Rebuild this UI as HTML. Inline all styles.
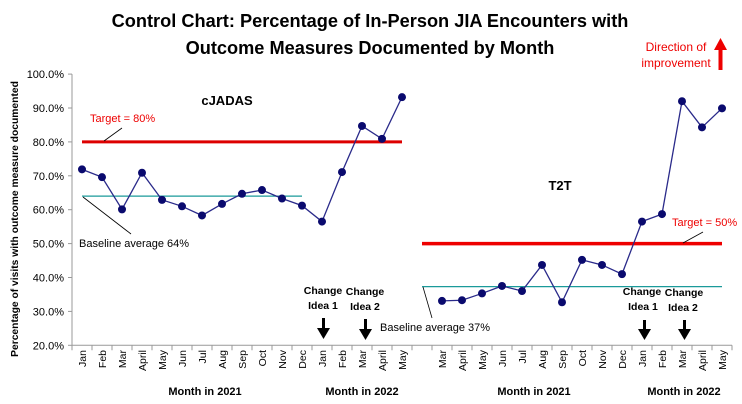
<!DOCTYPE html>
<html><head><meta charset="utf-8"><style>
body{margin:0;background:#fff}
svg{display:block;font-family:"Liberation Sans",sans-serif}
</style></head><body>
<svg width="742" height="404" viewBox="0 0 742 404">
<text x="370" y="27" text-anchor="middle" font-size="18.2" font-weight="bold">Control Chart: Percentage of In-Person JIA Encounters with</text>
<text x="370" y="54" text-anchor="middle" font-size="18.2" font-weight="bold">Outcome Measures Documented by Month</text>
<text x="676" y="51" text-anchor="middle" font-size="12" fill="#e00">Direction of</text>
<text x="676" y="67" text-anchor="middle" font-size="12" fill="#e00">improvement</text>
<g><rect x="718.5" y="48" width="4" height="22" fill="#e00"/><polygon points="714,50 727,50 720.5,38" fill="#e00"/></g>
<text transform="translate(18,219) rotate(-90)" text-anchor="middle" font-size="10.3" font-weight="bold">Percentage of visits with outcome measure documented</text>
<g id="axes"></g>
<g id="marks"></g>
</svg>
<script>
const yTicks=[20,30,40,50,60,70,80,90,100];
const leftCats=["Jan","Feb","Mar","April","May","Jun","Jul","Aug","Sep","Oct","Nov","Dec","Jan","Feb","Mar","April","May"];
const leftVals=[71.9,69.6,60.1,70.9,62.9,61.0,58.3,61.7,64.7,65.8,63.3,61.2,56.5,71.1,84.7,80.9,93.2];
const rightCats=["Mar","April","May","Jun","Jul","Aug","Sep","Oct","Nov","Dec","Jan","Feb","Mar","April","May"];
const rightVals=[33.1,33.3,35.3,37.5,36.0,43.7,32.7,45.2,43.7,41.0,56.5,58.7,92.0,84.3,89.9];
const leftTarget=80, leftBaseline=64, rightTarget=50, rightBaseline=37.3;
const NS="http://www.w3.org/2000/svg";
const y=v=>345.3-(v-20)*3.39;
const x=i=>82+i*20;
const rOff=leftCats.length+1;
function mk(p,t,a){const e=document.createElementNS(NS,t);for(const k in a)e.setAttribute(k,a[k]);p.appendChild(e);return e;}
const ax=document.getElementById('axes'),mg=document.getElementById('marks');
mk(ax,'line',{x1:72,y1:y(20),x2:72,y2:y(100),stroke:'#999'});
yTicks.forEach(t=>{mk(ax,'line',{x1:68,y1:y(t),x2:72,y2:y(t),stroke:'#999'});
 const tx=mk(ax,'text',{x:64,y:y(t)+4,'text-anchor':'end','font-size':11});tx.textContent=t.toFixed(1)+'%';
 
 });
const total=leftCats.length+1+rightCats.length;
mk(ax,'line',{x1:72,y1:y(20),x2:72+total*20,y2:y(20),stroke:'#999'});
for(let i=0;i<=total;i++)mk(ax,'line',{x1:72+i*20,y1:y(20),x2:72+i*20,y2:y(20)+5,stroke:'#999'});
function xl(c,i){const t=mk(ax,'text',{transform:`translate(${x(i)+4},350) rotate(-90)`,'text-anchor':'end','font-size':10.5});t.textContent=c;
 
 }
leftCats.forEach((c,i)=>xl(c,i));rightCats.forEach((c,i)=>xl(c,i+rOff));
[["Month in 2021",205],["Month in 2022",362],["Month in 2021",534],["Month in 2022",684]].forEach(([s,px])=>{const t=mk(ax,'text',{x:px,y:395,'text-anchor':'middle','font-size':11,'font-weight':'bold'});t.textContent=s;
 
 });
function hl(x1,x2,v,col,w,name){const l=mk(mg,'line',{x1,x2,y1:y(v),y2:y(v),stroke:col,'stroke-width':w});
 
 }
hl(x(0),x(leftCats.length-1),leftTarget,'#d00','3','cjadas-target-line');
hl(x(0),x(11),leftBaseline,'#1a9a9a','1.3','cjadas-baseline-line');
hl(x(rOff)-20,x(rOff+rightCats.length-1),rightTarget,'#e00','3.5','t2t-target-line');
hl(x(rOff)-20,x(rOff+rightCats.length-1),rightBaseline,'#1a9a9a','1.3','t2t-baseline-line');
function series(vals,off,name){const pts=vals.map((v,i)=>x(i+off)+','+y(v)).join(' ');
 const pl=mk(mg,'polyline',{points:pts,fill:'none',stroke:'#2a2a8a','stroke-width':1.3});
 
 
 vals.forEach((v,i)=>{const c=mk(mg,'circle',{cx:x(i+off),cy:y(v),r:4,fill:'#0a0a6e'});
 
 });}
series(leftVals,0,'cjadas');series(rightVals,rOff,'t2t');
</script>
<div style="position:absolute;left:0;top:0">
<svg width="742" height="404" style="font-family:'Liberation Sans',sans-serif">
<text x="227" y="105" text-anchor="middle" font-size="13" font-weight="bold">cJADAS</text>
<text x="560" y="190" text-anchor="middle" font-size="13" font-weight="bold">T2T</text>
<text x="90" y="122" font-size="11" fill="#e00">Target = 80%</text>
<line x1="122" y1="128" x2="104" y2="141" stroke="#000" stroke-width="0.8"/>
<text x="79" y="247" font-size="11">Baseline average 64%</text>
<line x1="131" y1="234" x2="83" y2="197" stroke="#000" stroke-width="0.8"/>
<text x="672" y="226" font-size="11" fill="#e00">Target = 50%</text>
<line x1="703" y1="232" x2="683" y2="243" stroke="#000" stroke-width="0.8"/>
<text x="380" y="331" font-size="11">Baseline average 37%</text>
<line x1="432" y1="318" x2="423" y2="287" stroke="#000" stroke-width="0.8"/>
<g font-size="10.5" font-weight="bold" text-anchor="middle">
<text x="323" y="294">Change</text><text x="323" y="309">Idea 1</text>
<text x="365" y="295">Change</text><text x="365" y="310">Idea 2</text>
<text x="642" y="295">Change</text><text x="643" y="310">Idea 1</text>
<text x="684" y="296">Change</text><text x="683" y="311">Idea 2</text>
</g>
<g fill="#000">
<rect x="322" y="318" width="3" height="12"/><polygon points="317,328 330,328 323.5,339"/>
<rect x="364" y="319" width="3" height="12"/><polygon points="359,329 372,329 365.5,340"/>
<rect x="643" y="320" width="3" height="11"/><polygon points="638,329 651,329 644.5,340"/>
<rect x="683" y="320" width="3" height="11"/><polygon points="678,329 691,329 684.5,340"/>
</g>
</svg></div>
</body></html>
